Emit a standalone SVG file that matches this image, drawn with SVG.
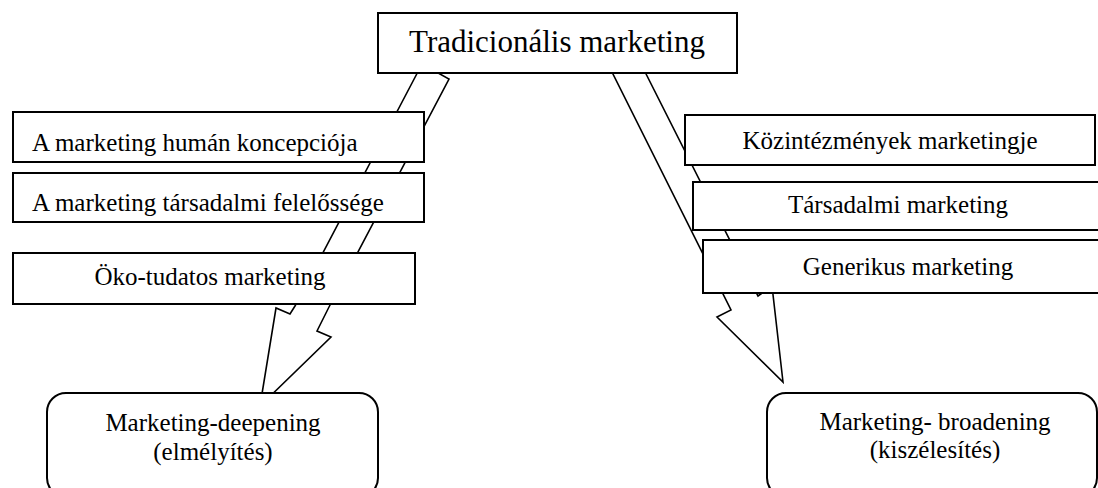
<svg xmlns="http://www.w3.org/2000/svg" width="1098" height="488" viewBox="0 0 1098 488">
<style>
.box{fill:#fff;stroke:#000;stroke-width:2}
.arr{fill:#fff;stroke:#000;stroke-width:1.6;stroke-linejoin:miter}
text{font-family:"Liberation Serif","Times New Roman",serif;font-size:25px;fill:#000}
.c{text-anchor:middle}
.title{font-size:31px}
</style>
<rect width="1098" height="488" fill="#fff"/>
<g id="connectors">
<polygon class="arr" points="422,64 449,79 329,307 317,331 331,337 260,406 276,308 290,314 295,306"/>
<polygon class="arr" points="606,60 639,60 758,296 772,286 783,382 717,317 731,310"/>
</g>
<g id="n-trad"><rect class="box" x="378" y="13" width="359" height="60"/><text class="c title" x="557" y="52">Tradicionális marketing</text></g>
<g id="n-human"><rect class="box" x="13" y="112" width="411" height="50"/><text x="32" y="151">A marketing humán koncepciója</text></g>
<g id="n-tarsfel"><rect class="box" x="13" y="173" width="411" height="49"/><text x="32" y="211">A marketing társadalmi felelőssége</text></g>
<g id="n-oko"><rect class="box" x="13" y="253" width="402" height="51"/><text class="c" x="210" y="285">Öko-tudatos marketing</text></g>
<g id="n-kozint"><rect class="box" x="685" y="115" width="410" height="50"/><text class="c" x="890" y="149">Közintézmények marketingje</text></g>
<g id="n-tarsmark"><rect class="box" x="693" y="182" width="420" height="48"/><text class="c" x="898" y="213">Társadalmi marketing</text></g>
<g id="n-gener"><rect class="box" x="703" y="240" width="420" height="53"/><text class="c" x="908" y="275">Generikus marketing</text></g>
<g id="n-deep"><rect class="box" x="47" y="393" width="331" height="104" rx="19"/><text class="c" x="213" y="431">Marketing-deepening</text><text class="c" x="213" y="460">(elmélyítés)</text></g>
<g id="n-broad"><rect class="box" x="767" y="393" width="330" height="104" rx="19"/><text class="c" x="935" y="430">Marketing- broadening</text><text class="c" x="935" y="458">(kiszélesítés)</text></g>
</svg>
